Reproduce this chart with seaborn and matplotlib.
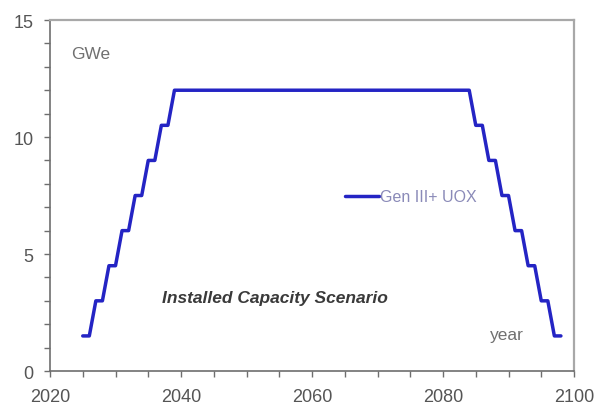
import matplotlib
matplotlib.use("Agg")
import matplotlib.pyplot as plt
from matplotlib.ticker import MultipleLocator
import seaborn as sns
import pandas as pd

years = [2025, 2026, 2027, 2028, 2029, 2030, 2031, 2032, 2033, 2034, 2035, 2036,
         2037, 2038, 2039, 2084, 2085, 2086, 2087, 2088, 2089, 2090, 2091, 2092,
         2093, 2094, 2095, 2096, 2097, 2098]
capacity = [1.5, 1.5, 3.0, 3.0, 4.5, 4.5, 6.0, 6.0, 7.5, 7.5, 9.0, 9.0,
            10.5, 10.5, 12.0, 12.0, 10.5, 10.5, 9.0, 9.0, 7.5, 7.5, 6.0, 6.0,
            4.5, 4.5, 3.0, 3.0, 1.5, 1.5]
series_name = "Gen III+ UOX"
x_ticks = [2020, 2040, 2060, 2080, 2100]
y_ticks = [0, 5, 10, 15]

sns.set_theme(style="white")
plt.rcParams['font.family'] = ['Liberation Sans', 'DejaVu Sans']

df = pd.DataFrame({"year": years, "GWe": capacity, "series": series_name})

fig = plt.figure(figsize=(5.96, 4.14), dpi=100)
ax = fig.add_axes([0.0839, 0.1014, 0.8792, 0.8478])

sns.lineplot(data=df, x="year", y="GWe", color="#2424c4", linewidth=2.5,
             ax=ax, label=series_name, sort=False)

ax.set_xlim(2020, 2100)
ax.set_ylim(0, 15)
ax.set_xticks(x_ticks)
ax.set_yticks(y_ticks)
ax.xaxis.set_minor_locator(MultipleLocator(5))
ax.yaxis.set_minor_locator(MultipleLocator(1))
ax.set_xlabel("")
ax.set_ylabel("")

for side in ["left", "bottom"]:
    ax.spines[side].set_color("#6e6e6e")
    ax.spines[side].set_linewidth(1.2)
for side in ["top", "right"]:
    ax.spines[side].set_color("#a8a8a8")
    ax.spines[side].set_linewidth(1.6)

ax.tick_params(axis="both", which="both", direction="out", color="#6e6e6e",
               width=1.0, bottom=True, left=True, top=False, right=False)
ax.tick_params(axis="both", which="major", length=4, labelsize=13,
               labelcolor="#555555", pad=8)
ax.tick_params(axis="both", which="minor", length=4)

ax.text(2023.3, 13.55, "GWe", fontsize=12.5, color="#707070", va="center")
ax.text(2087.2, 1.55, "year", fontsize=12.5, color="#707070", va="center")
ax.text(2037.1, 3.15, "Installed Capacity Scenario", fontsize=12.5,
        color="#3a3a3a", fontweight="bold", fontstyle="italic", va="center")

leg = ax.legend(loc="center left", bbox_to_anchor=(0.563, 0.496), frameon=False,
                fontsize=11.5, handlelength=2.1, handletextpad=0.1,
                borderaxespad=0, borderpad=0)
for t in leg.get_texts():
    t.set_color("#8a8ab8")

fig.savefig("out.png", dpi=100, facecolor="white")
